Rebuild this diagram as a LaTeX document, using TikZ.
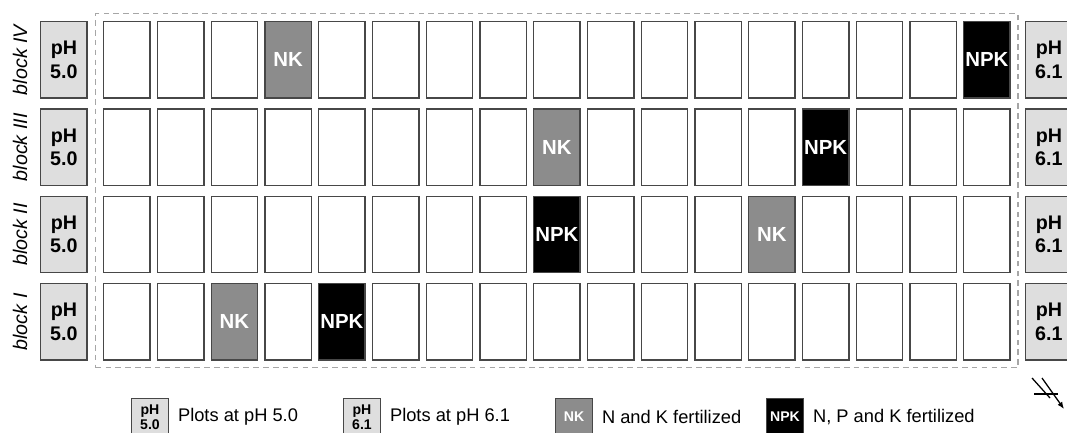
\documentclass[tikz,border=0pt]{standalone}
\usepackage{fontspec}
\setmainfont{Liberation Sans}
\usetikzlibrary{positioning,fit,arrows.meta}

\begin{document}
\begin{tikzpicture}[
    x=0.025cm, y=-0.025cm,
    plot/.style={draw=black!72,line width=1pt,minimum width=1.16cm,minimum height=1.91cm,inner sep=0pt,anchor=north west,text=white,font=\fontsize{14.5}{16}\selectfont\bfseries},
    ph/.style={draw=black!72,line width=1pt,fill=black!13,minimum width=1.16cm,minimum height=1.91cm,inner sep=0pt,anchor=north west,align=center,font=\fontsize{14}{16.5}\selectfont\bfseries},
    blocklbl/.style={rotate=90,font=\fontsize{14}{16}\selectfont\itshape},
    key/.style={draw=black!72,line width=0.7pt,minimum width=0.93cm,minimum height=0.95cm,inner sep=0pt,align=center,font=\fontsize{10}{10.5}\selectfont\bfseries},
    keytext/.style={font=\fontsize{13}{15}\selectfont,right=0.1cm of #1},
    >={Latex[length=5pt,width=4pt]},
]
    \useasboundingbox (0,0) rectangle (1067,433);

    % four blocks, 17 plots each
    \foreach \row/\blk/\nkcol/\npkcol in {0/IV/3/16,1/III/8/13,2/II/12/8,3/I/2/4}{
        \node[ph] (phl-\row) at (40,{21+87.3*\row}) {pH\\5.0};
        \node[ph] (phr-\row) at (1025,{21+87.3*\row}) {pH\\6.1};
        \node[blocklbl] (blk-\row) at (20,{60+87.3*\row}) {block \blk};
        \foreach \col in {0,...,16}{
            \ifnum\col=\nkcol \def\fillc{black!45}\def\lbl{NK}%
            \else\ifnum\col=\npkcol \def\fillc{black}\def\lbl{NPK}%
            \else \def\fillc{white}\def\lbl{}\fi\fi
            \node[plot,fill=\fillc] (p-\row-\col) at ({103+53.75*\col},{21+87.3*\row}) {\lbl};
        }
    }

    \node[draw=black!35,line width=0.8pt,dash pattern=on 4pt off 3pt,fit=(p-0-0)(p-3-16),inner sep=0.18cm] (field) {};

    % legend
    \node[key,fill=black!13] (key5) at (150,417) {pH\\5.0};
    \node[keytext=key5] (key5txt) {Plots at pH 5.0};
    \node[key,fill=black!13] (key61) at (362,417) {pH\\6.1};
    \node[keytext=key61] (key61txt) {Plots at pH 6.1};
    \node[key,fill=black!45,text=white] (keynk) at (574,417) {NK};
    \node[keytext=keynk] (keynktxt) {N and K fertilized};
    \node[key,fill=black,text=white] (keynpk) at (785,417) {NPK};
    \node[keytext=keynpk] (keynpktxt) {N, P and K fertilized};

    % north arrow
    \draw[line width=0.9pt] (1032,378) -- (1050,398);
    \draw[line width=0.9pt,->] (1042,378) -- (1064,409);
    \draw[line width=0.9pt] (1034,394) -- (1058,394);
\end{tikzpicture}
\end{document}
